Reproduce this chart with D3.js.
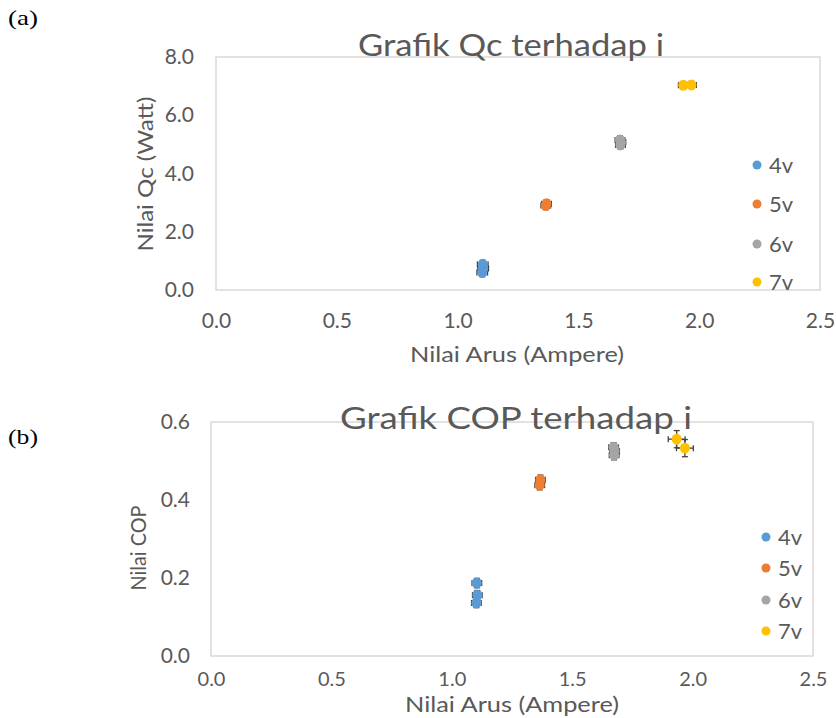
<!DOCTYPE html>
<html><head><meta charset="utf-8">
<script src="https://cdn.jsdelivr.net/npm/d3@7"></script>
<style>
body{margin:0;background:#fff;}
text{fill:#595959;}
</style></head>
<body><svg id="c" width="836" height="718" font-family="Lato, 'Open Sans', sans-serif"></svg>
<script>
// ---- data ----
const seriesNames = ["4v","5v","6v","7v"];
const xTicks = [0.0,0.5,1.0,1.5,2.0,2.5];
const qcTicks = [0.0,2.0,4.0,6.0,8.0];
const copTicks = [0.0,0.2,0.4,0.6];

const arus4v = [1.104,1.106,1.102];
const arus5v = [1.365,1.368];
const arus6v = [1.672,1.676,1.674];
const arus7v = [1.934,1.968];

const qc4v = [0.88,0.74,0.60];
const qc5v = [2.90,2.96];
const qc6v = [5.15,5.07,4.98];
const qc7v = [7.03,7.04];

const cop4v = [0.187,0.156,0.136];
const cop5v = [0.438,0.452];
const cop6v = [0.535,0.525,0.515];
const cop7v = [0.556,0.533];

// error bar half-widths per series (x in A, y in units)
const errXqc = [0.022,0.02,0.02,0.02];
const errYqc = [0.14,0.14,0.14,0.12];
const errXcop = [0.02,0.02,0.02,0.035];
const errYcop = [0.012,0.012,0.012,0.022];

const colors = ["#5b9bd5","#ed7d31","#a5a5a5","#ffc000"];
const arus = [arus4v,arus5v,arus6v,arus7v];
const qc = [qc4v,qc5v,qc6v,qc7v];
const cop = [cop4v,cop5v,cop6v,cop7v];

const svg = d3.select("#c");
svg.append("rect").attr("width",836).attr("height",718).attr("fill","#fff");

function panel(o){
  const g = svg.append("g");
  const x = d3.scaleLinear().domain([0,2.5]).range([o.left,o.right]);
  const y = d3.scaleLinear().domain(o.ydom).range([o.bottom,o.top]);
  g.append("rect").attr("x",o.left).attr("y",o.top)
    .attr("width",o.right-o.left).attr("height",o.bottom-o.top)
    .attr("fill","none").attr("stroke","#d9d9d9").attr("stroke-width",1.5);
  const xa = g.append("g").attr("transform",`translate(0,${o.bottom})`)
    .call(d3.axisBottom(x).tickValues(xTicks).tickFormat(d3.format(".1f")).tickSize(0).tickPadding(o.xPad));
  xa.select(".domain").remove();
  xa.attr("font-family",null);
  xa.selectAll("text").attr("font-size",o.xTickSize).attr("fill","#595959");
  const ya = g.append("g").attr("transform",`translate(${o.left},0)`)
    .call(d3.axisLeft(y).tickValues(o.yticks).tickFormat(d3.format(".1f")).tickSize(0).tickPadding(o.yPad));
  ya.select(".domain").remove();
  ya.attr("font-family",null);
  ya.selectAll("text").attr("font-size",21).attr("fill","#595959");
  g.append("text").attr("x",o.titleX).attr("y",o.titleY).attr("text-anchor","middle")
    .attr("font-size",30).attr("textLength",o.titleLen).attr("lengthAdjust","spacingAndGlyphs").text(o.title);
  g.append("text").attr("x",o.xtX).attr("y",o.xtY).attr("text-anchor","middle")
    .attr("font-size",o.xtSize).attr("textLength",214).attr("lengthAdjust","spacingAndGlyphs").text("Nilai Arus (Ampere)");
  g.append("text").attr("transform",`translate(${o.ytX},${o.ytY}) rotate(-90)`)
    .attr("text-anchor","middle").attr("font-size",22).attr("textLength",o.ytLen)
    .attr("lengthAdjust","spacingAndGlyphs").text(o.ytitle);
  const cap = 3;
  seriesNames.forEach((s,i)=>{
    const xs = arus[i], ys = o.vals[i];
    xs.forEach((xv,j)=>{
      const cx = x(xv), cy = y(ys[j]);
      const ex = x(xv+o.ex[i])-cx, ey = cy-y(ys[j]+o.ey[i]);
      const eg = g.append("g").attr("stroke","#404040").attr("stroke-width",1.3);
      eg.append("line").attr("x1",cx-ex).attr("x2",cx+ex).attr("y1",cy).attr("y2",cy);
      eg.append("line").attr("x1",cx).attr("x2",cx).attr("y1",cy-ey).attr("y2",cy+ey);
      eg.append("line").attr("x1",cx-ex).attr("x2",cx-ex).attr("y1",cy-cap).attr("y2",cy+cap);
      eg.append("line").attr("x1",cx+ex).attr("x2",cx+ex).attr("y1",cy-cap).attr("y2",cy+cap);
      eg.append("line").attr("x1",cx-cap).attr("x2",cx+cap).attr("y1",cy-ey).attr("y2",cy-ey);
      eg.append("line").attr("x1",cx-cap).attr("x2",cx+cap).attr("y1",cy+ey).attr("y2",cy+ey);
    });
  });
  seriesNames.forEach((s,i)=>{
    g.selectAll(null).data(arus[i].map((xv,j)=>[xv,o.vals[i][j]])).enter()
      .append("ellipse").attr("cx",d=>x(d[0])).attr("cy",d=>y(d[1]))
      .attr("rx",5).attr("ry",5.5).attr("fill",colors[i]);
  });
  seriesNames.forEach((s,i)=>{
    const ly = o.legY[i];
    g.append("circle").attr("cx",o.legX).attr("cy",ly).attr("r",4.5).attr("fill",colors[i]);
    g.append("text").attr("x",o.legX+12).attr("y",ly).attr("dy","0.36em")
      .attr("font-size",22).text(s);
  });
}

panel({left:216,right:820,top:57,bottom:290,ydom:[0,8],yticks:qcTicks,vals:qc,
  ex:errXqc,ey:errYqc,xPad:23,xTickSize:21,yPad:22,title:"Grafik Qc terhadap i",titleLen:306,titleX:511,titleY:56,
  xtX:517,xtY:362,xtSize:22,ytX:153,ytY:174,ytLen:155,ytitle:"Nilai Qc (Watt)",legX:757,legY:[165,204,244,282]});
panel({left:211,right:813,top:422,bottom:656,ydom:[0,0.6],yticks:copTicks,vals:cop,
  ex:errXcop,ey:errYcop,xPad:16,xTickSize:20,yPad:21,title:"Grafik COP terhadap i",titleLen:352,titleX:516,titleY:429,
  xtX:512,xtY:712,xtSize:21,ytX:146,ytY:548,ytLen:85,ytitle:"Nilai COP",legX:766,legY:[537,568,600,631]});

svg.append("text").attr("x",8).attr("y",25).style("font-family","'Liberation Serif','Times New Roman',serif")
  .attr("font-size",22).attr("textLength",30).attr("lengthAdjust","spacingAndGlyphs").style("fill","#000").text("(a)");
svg.append("text").attr("x",8).attr("y",444).style("font-family","'Liberation Serif','Times New Roman',serif")
  .attr("font-size",22).attr("textLength",30).attr("lengthAdjust","spacingAndGlyphs").style("fill","#000").text("(b)");
</script></body></html>
